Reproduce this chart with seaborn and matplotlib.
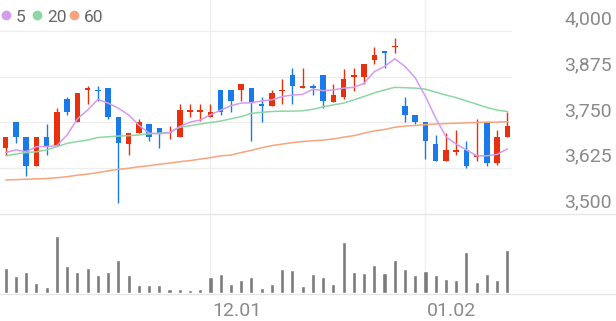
import numpy as np
import pandas as pd
import matplotlib
matplotlib.use("Agg")
import matplotlib.pyplot as plt
import matplotlib.transforms as mtransforms
from matplotlib.lines import Line2D
import seaborn as sns

# ---------------- data ----------------
opens = [3680, 3750, 3710, 3630, 3710, 3685, 3815, 3750, 3840, 3840,
         3845, 3765, 3690, 3720, 3745, 3735, 3720, 3710, 3780, 3780,
         3765, 3840, 3840, 3840, 3845, 3800, 3795, 3835, 3880, 3845,
         3850, 3880, 3805, 3820, 3875, 3875, 3920, 3945, 3955, 3795,
         3770, 3750, 3690, 3645, 3670, 3675, 3655, 3750, 3640, 3710]
highs = [3710, 3750, 3710, 3710, 3745, 3790, 3820, 3830, 3850, 3850,
         3845, 3765, 3720, 3760, 3745, 3735, 3740, 3800, 3800, 3800,
         3800, 3840, 3840, 3855, 3845, 3820, 3840, 3870, 3900, 3900,
         3855, 3880, 3855, 3895, 3900, 3910, 3955, 3945, 3980, 3820,
         3770, 3750, 3715, 3720, 3730, 3700, 3760, 3750, 3730, 3780]
lows = [3660, 3695, 3605, 3630, 3660, 3685, 3770, 3750, 3800, 3810,
        3760, 3530, 3660, 3720, 3700, 3680, 3705, 3710, 3765, 3755,
        3765, 3770, 3780, 3810, 3700, 3750, 3795, 3800, 3800, 3845,
        3825, 3790, 3805, 3815, 3835, 3855, 3910, 3900, 3940, 3750,
        3745, 3650, 3645, 3645, 3660, 3625, 3645, 3630, 3635, 3710]
closes = [3710, 3710, 3630, 3710, 3685, 3780, 3780, 3830, 3845, 3835,
          3765, 3695, 3720, 3750, 3710, 3720, 3725, 3785, 3785, 3785,
          3780, 3780, 3810, 3855, 3805, 3795, 3830, 3840, 3850, 3850,
          3845, 3810, 3825, 3870, 3880, 3910, 3935, 3940, 3960, 3770,
          3750, 3700, 3645, 3675, 3675, 3630, 3660, 3640, 3710, 3740]
volumes = [247, 173, 207, 97, 57, 573, 270, 207, 250, 180,
           207, 330, 177, 80, 83, 80, 43, 43, 33, 43,
           157, 187, 90, 127, 157, 50, 90, 243, 230, 73,
           187, 163, 90, 510, 210, 200, 280, 203, 330, 240,
           180, 223, 177, 143, 127, 410, 107, 190, 133, 430]
ma5 = [3668, 3675, 3670, 3684, 3684, 3687, 3716, 3760, 3784, 3813,
       3803, 3789, 3771, 3743, 3721, 3719, 3722, 3739, 3751, 3757,
       3771, 3784, 3796, 3803, 3804, 3809, 3812, 3821, 3825, 3827,
       3841, 3837, 3839, 3844, 3846, 3857, 3889, 3903, 3924, 3903,
       3872, 3821, 3762, 3711, 3691, 3675, 3659, 3659, 3663, 3678]
ma20 = [3659, 3664, 3668, 3670, 3675, 3684, 3693, 3698, 3702, 3709,
        3711, 3713, 3714, 3716, 3719, 3721, 3723, 3737, 3741, 3746,
        3750, 3754, 3760, 3766, 3775, 3778, 3780, 3781, 3781, 3782,
        3786, 3793, 3798, 3803, 3812, 3821, 3831, 3839, 3846, 3845,
        3844, 3841, 3833, 3825, 3818, 3809, 3800, 3791, 3784, 3780]
ma60 = [3593, 3594, 3595, 3596, 3597, 3599, 3602, 3606, 3609, 3613,
        3618, 3622, 3625, 3629, 3632, 3636, 3639, 3643, 3646, 3650,
        3654, 3659, 3661, 3668, 3674, 3681, 3687, 3691, 3695, 3698,
        3700, 3702, 3705, 3710, 3714, 3721, 3727, 3731, 3737, 3740,
        3742, 3744, 3746, 3747, 3748, 3749, 3750, 3751, 3751, 3752]
date_labels = ["12.01", "01.02"]
date_label_idx = [20, 41]
price_ticks = [3500, 3625, 3750, 3875, 4000]
legend_labels = ["5", "20", "60"]

# ---------------- styles ----------------
RED = "#e8300e"
BLUE = "#1a7be8"
MA_COLORS = ["#d49bf0", "#8dd7a2", "#f8a47e"]
VOL_COLOR = "#7b7b7b"
GRID = "#eeeeee"
SEP = "#e6e6e6"
LABEL = "#8a8a8a"

sns.set_theme(style="white")
plt.rcParams["font.family"] = ["Roboto", "DejaVu Sans"]

W, H = 616, 321
fig = plt.figure(figsize=(W / 100, H / 100), dpi=100)
fig.patch.set_facecolor("white")


def fx(px):
    return px / W


def fy(py):
    return 1 - py / H


ax_p = fig.add_axes([0, fy(214), fx(512), 214 / H])
ax_v = fig.add_axes([0, fy(293), fx(512), (293 - 214) / H])

n = len(closes)
idx = np.arange(n)
df = pd.DataFrame({"idx": idx, "open": opens, "high": highs, "low": lows,
                   "close": closes, "volume": volumes,
                   "ma5": ma5, "ma20": ma20, "ma60": ma60})

xlim = (-0.557, 49.45)

# gridlines
for v in price_ticks[1:]:
    ax_p.axhline(v, color=GRID, lw=0.9, zorder=0)
for i in date_label_idx:
    ax_p.axvline(i, color=GRID, lw=0.9, zorder=0)
    ax_v.axvline(i, color=GRID, lw=0.9, zorder=0)

# candles
up = df["close"] >= df["open"]
cols = np.where(up, RED, BLUE)
ax_p.vlines(df["idx"], df["low"], df["high"], colors=cols, lw=1.0, zorder=2)
body_bottom = np.minimum(df["open"], df["close"])
body_h = np.maximum(np.abs(df["close"] - df["open"]), 4)
ax_p.bar(df["idx"], body_h, bottom=body_bottom, width=0.54, color=cols,
         linewidth=0, zorder=3)

# moving averages
for col, c in zip(["ma60", "ma20", "ma5"], [MA_COLORS[2], MA_COLORS[1], MA_COLORS[0]]):
    sns.lineplot(data=df, x="idx", y=col, color=c, lw=1.1, ax=ax_p, zorder=4)

ax_p.set_xlim(*xlim)
ax_p.set_ylim(3500, 4000 + 31 * 500 / 183)
ax_p.axis("off")

# volume
sns.barplot(data=df, x="idx", y="volume", native_scale=True, color=VOL_COLOR,
            saturation=1, width=0.4, errorbar=None, ax=ax_v, zorder=2)
ax_v.set_xlim(*xlim)
ax_v.set_ylim(0, 790)
ax_v.axis("off")

# separators spanning full width
for py in (214, 293.5):
    fig.add_artist(Line2D([0, 1], [fy(py), fy(py)], transform=fig.transFigure,
                          color=SEP, lw=1.0))

# price labels on right
blend = mtransforms.blended_transform_factory(fig.transFigure, ax_p.transData)
for v in price_ticks:
    ax_p.annotate(f"{v:,}", xy=(fx(612), v), xycoords=blend,
                  xytext=(0, 6.5 * 0.72), textcoords="offset points",
                  ha="right", va="baseline", fontsize=14, color=LABEL,
                  annotation_clip=False)

# date labels
blend_v = mtransforms.blended_transform_factory(ax_v.transData, ax_v.transAxes)
for i, lab in zip(date_label_idx, date_labels):
    ax_v.annotate(lab, xy=(i, 0), xycoords=blend_v,
                  xytext=(1.5 * 0.72, -23.5 * 0.72), textcoords="offset points",
                  ha="left", va="baseline", fontsize=14, color=LABEL,
                  annotation_clip=False)

# legend
leg_x = [5.5, 37, 74]
for lx, lab, c in zip(leg_x, legend_labels, MA_COLORS):
    fig.add_artist(Line2D([fx(lx)], [fy(15)], transform=fig.transFigure,
                          marker="o", markersize=6.0, color=c, lw=0))
    fig.text(fx(lx + 10), fy(21.5), lab, ha="left", va="baseline",
             fontsize=12.5, color="#666666")

fig.savefig("out.png", dpi=100, facecolor="white")
